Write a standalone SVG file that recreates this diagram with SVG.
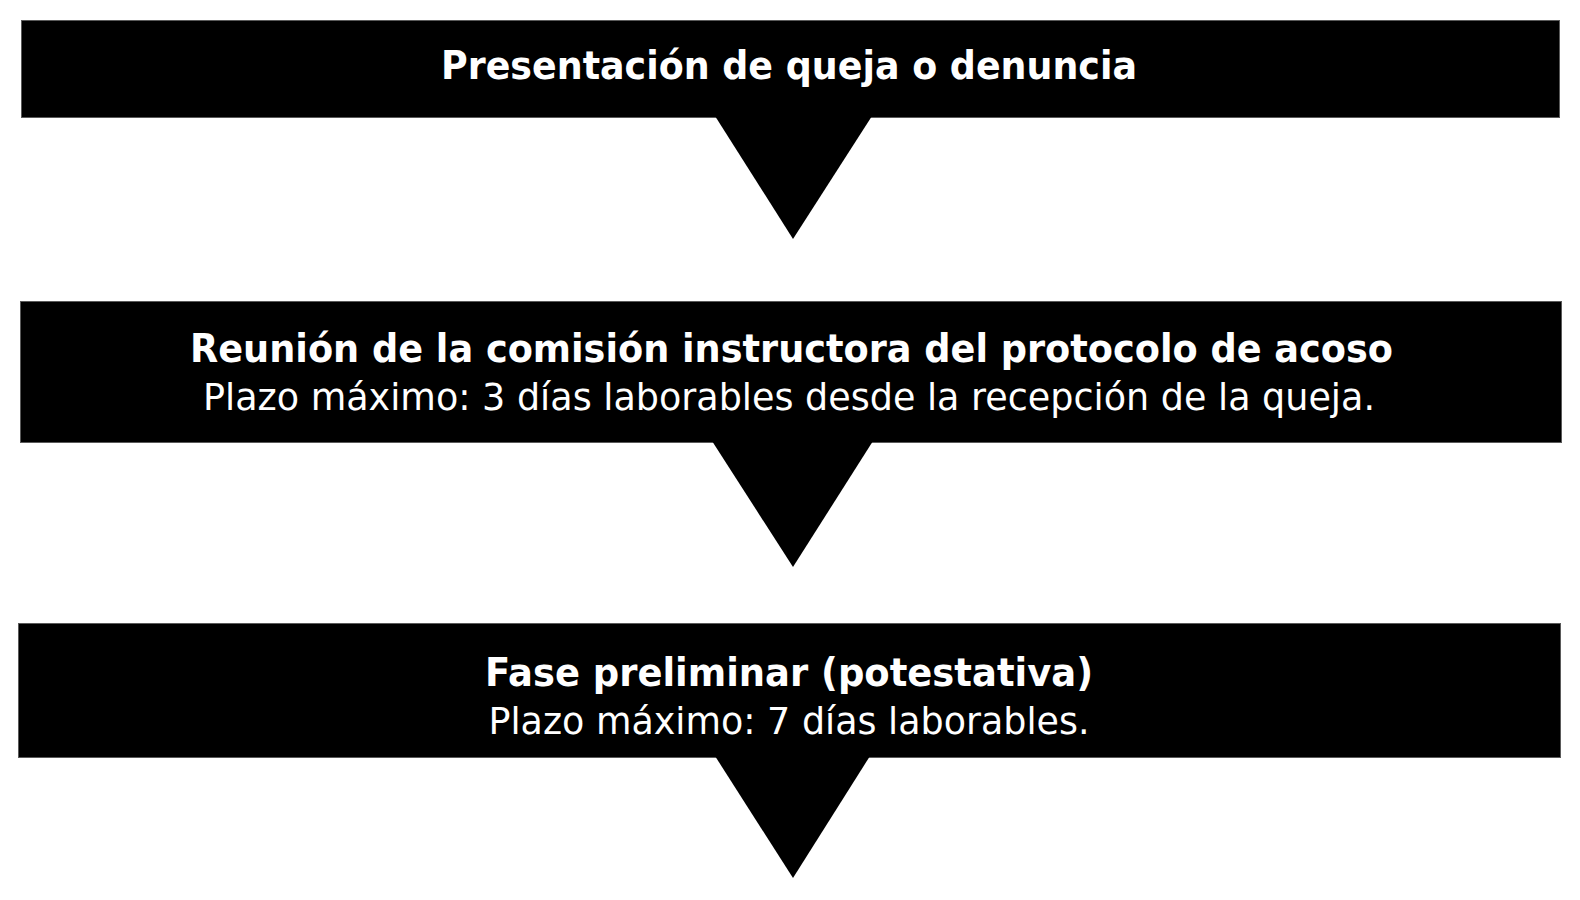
<svg xmlns="http://www.w3.org/2000/svg" width="1580" height="900" viewBox="0 0 1580 900">
<style>
.box{fill:#000;stroke:#5a5a5a;stroke-width:1}
.arr{fill:#000}
.t{font-family:"DejaVu Sans","Liberation Sans",sans-serif;fill:#fff;text-anchor:middle;font-size:38px}
.b{font-weight:bold;font-size:39px}
</style>
<rect width="1580" height="900" fill="#fff"/>
<g id="node1">
<rect class="box" x="21.5" y="20.5" width="1538" height="97"/>
<text class="t b" x="789" y="79" textLength="696" lengthAdjust="spacingAndGlyphs">Presentación de queja o denuncia</text>
</g>
<g id="node2">
<rect class="box" x="20.5" y="301.5" width="1541" height="141"/>
<text class="t b" x="791.5" y="362" textLength="1203" lengthAdjust="spacingAndGlyphs">Reunión de la comisión instructora del protocolo de acoso</text>
<text class="t" x="789" y="410" textLength="1172" lengthAdjust="spacingAndGlyphs">Plazo máximo: 3 días laborables desde la recepción de la queja.</text>
</g>
<g id="node3">
<rect class="box" x="18.5" y="623.5" width="1542" height="134"/>
<text class="t b" x="789" y="686" textLength="608" lengthAdjust="spacingAndGlyphs">Fase preliminar (potestativa)</text>
<text class="t" x="789" y="734" textLength="601" lengthAdjust="spacingAndGlyphs">Plazo máximo: 7 días laborables.</text>
</g>
<g id="connectors">
<polygon class="arr" points="715,116 872,116 793,239"/>
<polygon class="arr" points="712,441 873,441 793,567"/>
<polygon class="arr" points="715,756 870,756 793,878"/>
</g>
</svg>
